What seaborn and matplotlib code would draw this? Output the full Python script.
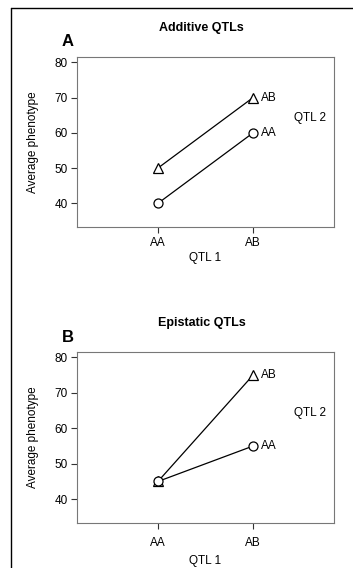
import matplotlib
matplotlib.use("Agg")
import matplotlib.pyplot as plt
import seaborn as sns
import pandas as pd
from matplotlib.lines import Line2D

sns.set_theme(style="white")
plt.rcParams['font.family'] = ['Liberation Sans', 'DejaVu Sans']
plt.rcParams['text.color'] = 'black'
plt.rcParams['axes.labelcolor'] = 'black'
plt.rcParams['xtick.color'] = 'black'
plt.rcParams['ytick.color'] = 'black'

qtl1_levels = ["AA", "AB"]
qtl2_levels = ["AB", "AA"]  # triangle series, circle series

additive_AB = [50, 70]
additive_AA = [40, 60]
epistatic_AB = [45, 75]
epistatic_AA = [45, 55]

panel_titles = ["Additive QTLs", "Epistatic QTLs"]
panel_letters = ["A", "B"]
yticks = [40, 50, 60, 70, 80]


def make_df(ab, aa):
    rows = []
    for i, q1 in enumerate(qtl1_levels):
        rows.append({"x": i, "QTL 2": "AB", "y": ab[i]})
        rows.append({"x": i, "QTL 2": "AA", "y": aa[i]})
    return pd.DataFrame(rows)


W, H = 353, 568
fig = plt.figure(figsize=(W / 100, H / 100), dpi=100)

panels = [(additive_AB, additive_AA), (epistatic_AB, epistatic_AA)]
# axes boxes in pixels: left, top, right, bottom
boxes = [(77, 57, 334, 227), (77, 352, 334, 523)]
xpads = [3, 5.5]
xlabelpads = [2, 4.5]
fs = 8.5

for k, ((ab, aa), box) in enumerate(zip(panels, boxes)):
    l, t, r, b = box
    ax = fig.add_axes([l / W, 1 - b / H, (r - l) / W, (b - t) / H])
    df = make_df(ab, aa)
    sns.lineplot(data=df, x="x", y="y", hue="QTL 2", style="QTL 2",
                 hue_order=qtl2_levels, style_order=qtl2_levels,
                 palette=["black", "black"], markers={"AB": "^", "AA": "o"},
                 dashes=False, markersize=6.5, markerfacecolor="white",
                 markeredgecolor="black", markeredgewidth=0.9,
                 linewidth=0.9, legend=False, ax=ax)
    ax.set_xlim(-0.85, 1.85)
    ax.set_ylim(33.3, 81.5)
    ax.set_xticks(range(len(qtl1_levels)))
    ax.set_xticklabels(qtl1_levels)
    ax.set_yticks(yticks)
    ax.tick_params(axis="both", which="both", direction="out", length=4.5,
                   width=0.8, labelsize=fs, color="#333333", left=True,
                   bottom=True, pad=2)
    ax.tick_params(axis="x", pad=xpads[k])
    for s in ax.spines.values():
        s.set_color("#777777")
        s.set_linewidth(0.8)
    ax.set_xlabel("QTL 1", fontsize=fs, labelpad=xlabelpads[k])
    ax.set_ylabel("Average phenotype", fontsize=fs, labelpad=11)
    # series labels at AB
    ax.text(1.08, ab[1], "AB", fontsize=fs, va="center", ha="left")
    ax.text(1.08, aa[1], "AA", fontsize=fs, va="center", ha="left")
    ax.text(1.6, 64.3, "QTL 2", fontsize=fs, va="center", ha="center")
    # title and letter
    fig.text(((l + r) / 2 - 4) / W, 1 - (t - 29) / H, panel_titles[k],
             fontsize=9, fontweight="bold", ha="center", va="center")
    fig.text((l - 15) / W, 1 - (t - 15) / H, panel_letters[k],
             fontsize=12, fontweight="bold", ha="left", va="center")

# frame lines (top and left)
fig.add_artist(Line2D([11 / W, 1.0], [1 - 8 / H, 1 - 8 / H], color="black", linewidth=1.0))
fig.add_artist(Line2D([11 / W, 11 / W], [0.0, 1 - 8 / H], color="black", linewidth=1.0))

fig.savefig("out.png", dpi=100)
